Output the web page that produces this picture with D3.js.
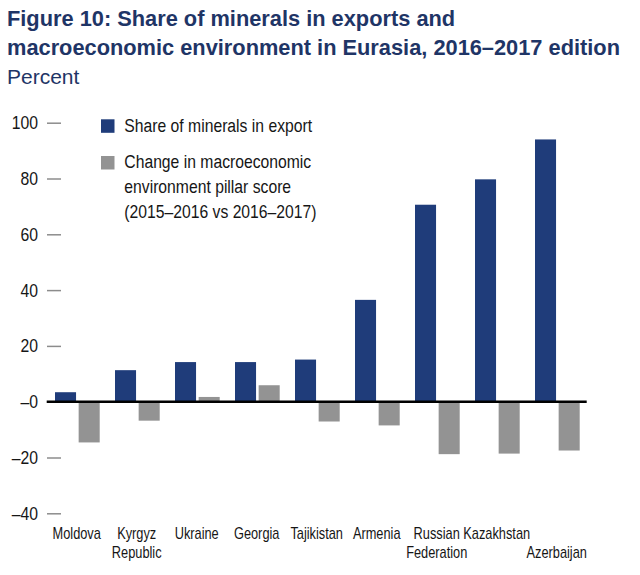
<!DOCTYPE html>
<html>
<head>
<meta charset="utf-8">
<script src="https://cdn.jsdelivr.net/npm/d3@7"></script>
<style>
  body { margin: 0; background: #fff; }
  svg { display: block; }
</style>
</head>
<body>
<svg id="chart" width="640" height="575"></svg>
<script>
// data
const categories = ['Moldova', 'Kyrgyz Republic', 'Ukraine', 'Georgia', 'Tajikistan',
  'Armenia', 'Russian Federation', 'Kazakhstan', 'Azerbaijan'];
const labelLines = [['Moldova'], ['Kyrgyz', 'Republic'], ['Ukraine'], ['Georgia'], ['Tajikistan'],
  ['Armenia'], ['Russian', 'Federation'], ['Kazakhstan'], ['', 'Azerbaijan']];
const mineralShare = [3.4, 11.3, 14.2, 14.2, 15.1, 36.5, 70.6, 79.7, 94.0];
const macroChange = [-14.6, -6.8, 1.7, 5.9, -7.1, -8.5, -18.8, -18.6, -17.5];
const yTicks = [-40, -20, 0, 20, 40, 60, 80, 100];
const seriesNames = ['Share of minerals in export',
  'Change in macroeconomic\nenvironment pillar score\n(2015\u20132016 vs 2016\u20132017)'];
const titleLines = ['Figure 10: Share of minerals in exports and',
  'macroeconomic environment in Eurasia, 2016\u20132017 edition'];
const subtitle = 'Percent';

const config = {
  'blue': '#1f3c7a',
  'grey': '#939393',
  'navy': '#1f3566',
  'text': '#161616',
  'font': '"Liberation Sans", Arial, sans-serif',
  'squeeze': 0.81 // no narrow face installed, so squash the regular one
};

const svg = d3.select('#chart');

// title block
svg.append('g')
  .selectAll('text')
  .data(titleLines)
  .enter()
  .append('text')
  .attr('x', 7)
  .attr('y', (d, i) => 26 + i * 29)
  .attr('fill', config['navy'])
  .style('font-family', config['font'])
  .style('font-weight', 'bold')
  .style('font-size', '21.8px')
  .text(d => d);

svg.append('text')
  .attr('x', 7)
  .attr('y', 84)
  .attr('fill', config['navy'])
  .style('font-family', config['font'])
  .style('font-size', '21px')
  .text(subtitle);

// scales
const x = d3.scaleBand()
  .domain(categories)
  .range([46.7, 586.7])
  .padding(0);

const x1 = d3.scaleBand()
  .domain([0, 1])
  .range([8.3, 53])
  .paddingInner(0.11);

const y = d3.scaleLinear()
  .domain([-40, 100])
  .range([513.3, 122.7]);

// y axis: short grey dashes right of the numbers
const fmt = v => v <= 0 ? '\u2013' + Math.abs(v) : String(v);
const yAxis = svg.append('g')
  .attr('transform', 'translate(61,0)')
  .call(d3.axisLeft(y).tickValues(yTicks).tickSize(14).tickPadding(9).tickFormat(fmt));

yAxis.select('.domain').remove();
yAxis.selectAll('line')
  .attr('stroke', '#8c8c8c')
  .attr('stroke-width', 1.5);
yAxis.selectAll('text')
  .attr('x', 0)
  .attr('transform', `translate(-23,0) scale(0.83,1)`)
  .attr('fill', config['text'])
  .style('font-family', config['font'])
  .style('font-size', '19px');

// bars
const groups = svg.append('g')
  .attr('class', 'bars')
  .selectAll('g')
  .data(categories.map((c, i) => ({ id: c, values: [mineralShare[i], macroChange[i]] })))
  .enter()
  .append('g')
  .attr('transform', d => `translate(${x(d.id)},0)`);

groups.selectAll('rect')
  .data(d => d.values)
  .enter()
  .append('rect')
  .attr('x', (d, i) => x1(i))
  .attr('width', x1.bandwidth())
  .attr('y', d => y(Math.max(0, d)))
  .attr('height', d => Math.abs(y(d) - y(0)))
  .attr('fill', (d, i) => i === 0 ? config['blue'] : config['grey']);

// zero line
svg.append('line')
  .attr('x1', x.range()[0])
  .attr('x2', x.range()[1])
  .attr('y1', y(0))
  .attr('y2', y(0))
  .attr('stroke', '#000')
  .attr('stroke-width', 2.5);

// category labels
const labels = svg.append('g')
  .selectAll('text')
  .data(categories)
  .enter()
  .append('text')
  .attr('transform', d => `translate(${x(d) + x.bandwidth() / 2},0) scale(${config['squeeze']},1)`)
  .attr('text-anchor', 'middle')
  .attr('fill', config['text'])
  .style('font-family', config['font'])
  .style('font-size', '15.8px');

labels.each(function (d, i) {
  const text = d3.select(this);
  labelLines[i].forEach((line, k) => {
    text.append('tspan')
      .attr('x', 0)
      .attr('y', 539 + k * 19.5)
      .text(line);
  });
});

// legend
const legend = svg.append('g')
  .selectAll('g')
  .data(seriesNames)
  .enter()
  .append('g')
  .attr('transform', (d, i) => `translate(101,${i === 0 ? 119.3 : 156})`);

legend.append('rect')
  .attr('width', 13.5)
  .attr('height', 13.5)
  .attr('fill', (d, i) => i === 0 ? config['blue'] : config['grey']);

legend.append('text')
  .attr('transform', 'translate(23.3,0) scale(0.85,1)')
  .attr('fill', config['text'])
  .style('font-family', config['font'])
  .style('font-size', '18.5px')
  .each(function (d) {
    const text = d3.select(this);
    d.split('\n').forEach((line, k) => {
      text.append('tspan')
        .attr('x', 0)
        .attr('y', 12.4 + k * 25)
        .text(line);
    });
  });
</script>
</body>
</html>
